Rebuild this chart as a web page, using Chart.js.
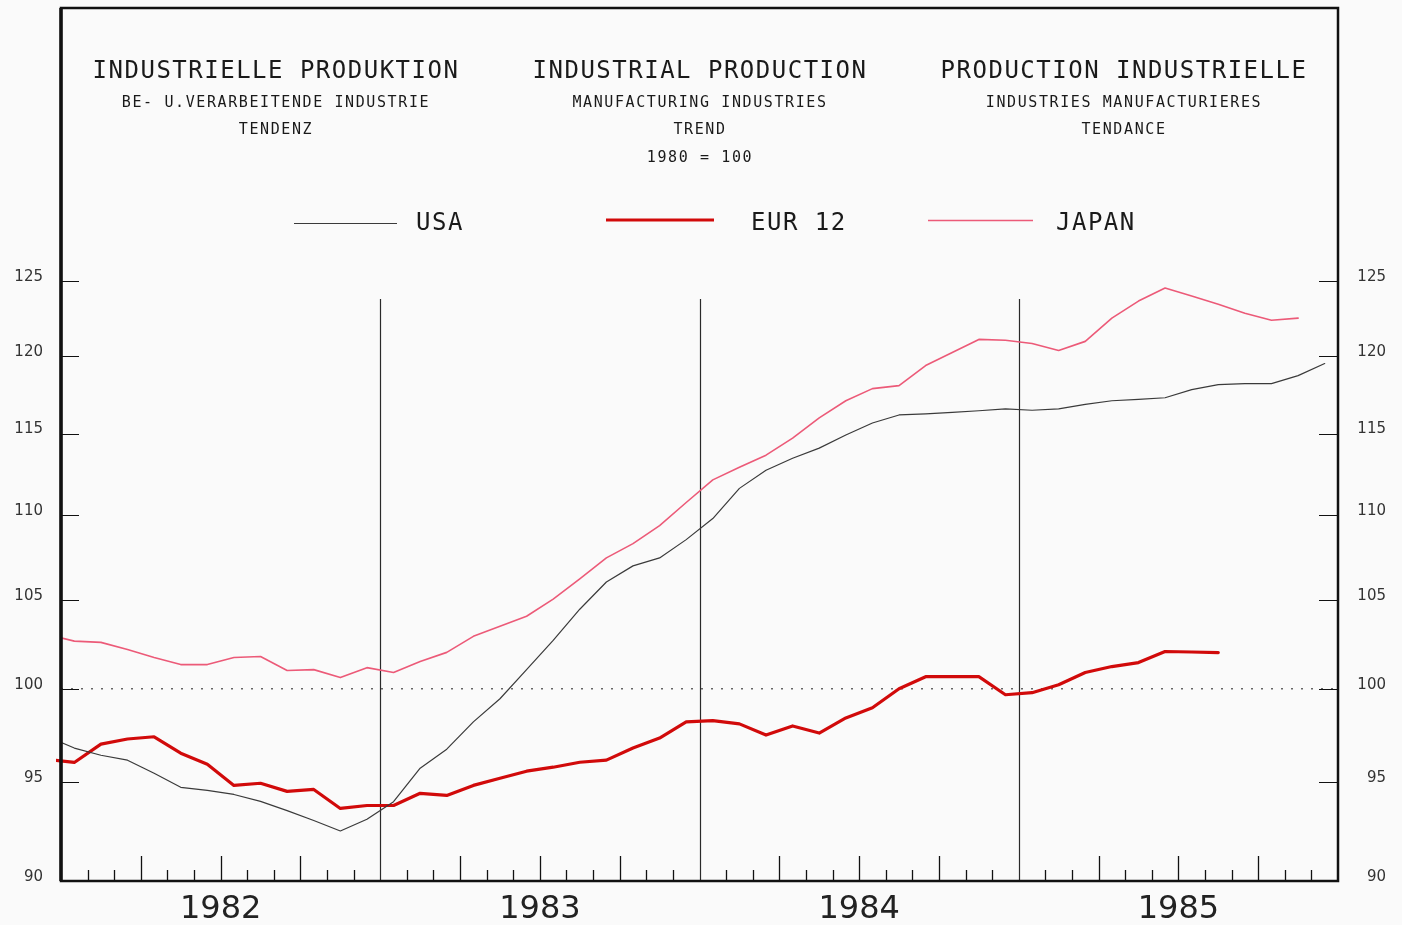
<!DOCTYPE html>
<html>
<head>
<meta charset="utf-8">
<title>Industrielle Produktion</title>
<script src="https://cdn.jsdelivr.net/npm/chart.js@4.4.1/dist/chart.umd.min.js"></script>
<style>
    html, body { margin: 0; padding: 0; background: #fafafa; }
    #wrap { width: 1402px; height: 925px; }
</style>
</head>
<body>
<div id="wrap"><canvas id="grafico" width="1402" height="925"></canvas></div>
<script>
// Dados: tendência mensal, 1980 = 100
// primeiro valor de cada série = dezembro 1981, depois jan/1982 em diante
const anos = ['1982', '1983', '1984', '1985'];
const ticksY = [90, 95, 100, 105, 110, 115, 120, 125];

const usa = [
    97.4,
    96.8, 96.42, 96.16, 95.47, 94.74, 94.58, 94.37, 94.01, 93.54, 93.03, 92.5, 93.1,
    94.0, 95.74, 96.74, 98.2, 99.45, 101.05, 102.68, 104.45, 106.02, 106.96, 107.43, 108.51,
    109.77, 111.6, 112.71, 113.46, 114.09, 114.91, 115.67, 116.18, 116.25, 116.35, 116.45, 116.57,
    116.48, 116.57, 116.86, 117.09, 117.18, 117.28, 117.8, 118.13, 118.19, 118.19, 118.71, 119.5
];

const eur12 = [
    96.2,
    96.04, 97.01, 97.28, 97.4, 96.53, 95.95, 94.84, 94.95, 94.53, 94.63, 93.65, 93.8,
    93.8, 94.43, 94.32, 94.84, 95.21, 95.58, 95.79, 96.05, 96.16, 96.8, 97.33, 98.2,
    98.27, 98.09, 97.49, 97.98, 97.6, 98.41, 98.96, 100.0, 100.66, 100.66, 100.66, 99.67,
    99.78, 100.22, 100.89, 101.22, 101.44, 102.06, 102.03, 102.0
];

const japan = [
    103.0,
    102.64, 102.57, 102.17, 101.72, 101.33, 101.33, 101.72, 101.78, 101.0, 101.05, 100.61, 101.16,
    100.89, 101.5, 102.01, 102.91, 103.48, 104.05, 105.03, 106.2, 107.43, 108.27, 109.35, 110.74,
    112.12, 112.9, 113.65, 114.72, 116.0, 117.09, 117.87, 118.06, 119.37, 120.23, 121.09, 121.03,
    120.82, 120.36, 120.96, 122.51, 123.66, 124.55, 124.0, 123.45, 122.84, 122.37, 122.51
];

// Textos do cabeçalho (três línguas)
const titulos = [
    { x: 276, linhas: ['INDUSTRIELLE PRODUKTION', 'BE- U.VERARBEITENDE INDUSTRIE', 'TENDENZ'] },
    { x: 700, linhas: ['INDUSTRIAL PRODUCTION', 'MANUFACTURING INDUSTRIES', 'TREND', '1980 = 100'] },
    { x: 1124, linhas: ['PRODUCTION INDUSTRIELLE', 'INDUSTRIES MANUFACTURIERES', 'TENDANCE'] }
];

// cada ponto fica no meio do mês (eixo x em meses desde jan/1982)
function pontos(valores) {
    return valores.map((v, i) => ({ x: i - 0.5, y: v }));
}

const fonteMono = '"DejaVu Sans Mono", monospace';

const moldura = {
    id: 'moldura',
    beforeDatasetsDraw(chart) {
        const { ctx, chartArea: a, scales: { x, y } } = chart;
        ctx.save();
        // linha pontilhada em 100
        const y100 = y.getPixelForValue(100);
        ctx.strokeStyle = '#666';
        ctx.lineWidth = 1.5;
        ctx.setLineDash([2, 8]);
        ctx.beginPath();
        ctx.moveTo(a.left, y100);
        ctx.lineTo(a.right, y100);
        ctx.stroke();
        ctx.setLineDash([]);
        // linhas verticais entre os anos
        ctx.strokeStyle = '#2a2a2a';
        ctx.lineWidth = 1.2;
        [12, 24, 36].forEach(m => {
            const px = Math.round(x.getPixelForValue(m)) + 0.5;
            ctx.beginPath();
            ctx.moveTo(px, y.getPixelForValue(123.8));
            ctx.lineTo(px, a.bottom);
            ctx.stroke();
        });
        ctx.restore();
    },
    afterDatasetsDraw(chart) {
        const { ctx, chartArea: a, scales: { x, y } } = chart;
        ctx.save();
        ctx.strokeStyle = '#111';
        // marcas dos meses (trimestres mais altas)
        ctx.lineWidth = 1.3;
        for (let m = 1; m < 48; m++) {
            if (m % 12 === 0) continue;
            const px = Math.round(x.getPixelForValue(m)) + 0.5;
            const alt = m % 3 === 0 ? 25 : 11;
            ctx.beginPath();
            ctx.moveTo(px, a.bottom);
            ctx.lineTo(px, a.bottom - alt);
            ctx.stroke();
        }
        // marcas do eixo y, dentro da moldura, dos dois lados
        ctx.lineWidth = 1.2;
        ticksY.forEach(v => {
            if (v === 90) return;
            const py = Math.round(y.getPixelForValue(v)) + 0.5;
            ctx.beginPath();
            ctx.moveTo(a.left, py);
            ctx.lineTo(a.left + 18, py);
            ctx.moveTo(a.right - 19, py);
            ctx.lineTo(a.right, py);
            ctx.stroke();
        });
        // moldura
        ctx.lineWidth = 2.5;
        ctx.strokeRect(a.left, a.top, a.right - a.left, a.bottom - a.top);
        ctx.lineWidth = 3.5;
        ctx.beginPath();
        ctx.moveTo(a.left, a.top);
        ctx.lineTo(a.left, a.bottom);
        ctx.stroke();
        ctx.restore();
    },
    afterDraw(chart) {
        const { ctx } = chart;
        ctx.save();
        ctx.fillStyle = '#1a1a1a';
        ctx.textAlign = 'center';
        ctx.textBaseline = 'alphabetic';
        const bases = [78, 106.5, 134, 161.5];
        titulos.forEach(t => {
            t.linhas.forEach((txt, i) => {
                if (i === 0) {
                    ctx.font = '24px ' + fonteMono;
                    ctx.letterSpacing = '1.5px';
                } else {
                    ctx.font = '15px ' + fonteMono;
                    ctx.letterSpacing = '1.6px';
                }
                ctx.fillText(txt, t.x, bases[i]);
            });
        });
        // legenda desenhada à mão: linha + rótulo
        const legenda = [
            { x1: 294, x2: 397, ly: 223.5, tx: 416 },
            { x1: 606, x2: 714, ly: 220, tx: 751 },
            { x1: 928, x2: 1033, ly: 220.5, tx: 1056 }
        ];
        ctx.textAlign = 'left';
        ctx.font = '24px ' + fonteMono;
        ctx.letterSpacing = '1.5px';
        chart.data.datasets.forEach((ds, i) => {
            const l = legenda[i];
            ctx.strokeStyle = ds.borderColor;
            ctx.lineWidth = ds.borderWidth;
            ctx.beginPath();
            ctx.moveTo(l.x1, l.ly);
            ctx.lineTo(l.x2, l.ly);
            ctx.stroke();
            ctx.fillText(ds.label, l.tx, 230);
        });
        ctx.restore();
    }
};

// Configuração comum aos dois eixos y (escala logarítmica)
function eixoY(posicao, largura) {
    return {
        type: 'logarithmic',
        position: posicao,
        min: 90,
        max: 145.2,
        afterBuildTicks: (scale) => {
            scale.ticks = ticksY.map(v => ({ value: v }));
        },
        afterFit: (scale) => {
            scale.width = largura;
        },
        grid: { display: false, drawTicks: true, tickLength: 18 },
        border: { display: false },
        ticks: {
            padding: 0,
            labelOffset: -4,
            crossAlign: posicao === 'right' ? 'far' : 'near',
            color: '#333',
            font: { family: '"DejaVu Sans", sans-serif', size: 15, lineHeight: 1 },
            callback: (v) => String(v)
        }
    };
}

new Chart(document.getElementById('grafico'), {
    type: 'line',
    data: {
        datasets: [
            {
                label: 'USA',
                data: pontos(usa),
                borderColor: '#3a3a3a',
                borderWidth: 1.2,
                yAxisID: 'y'
            },
            {
                label: 'EUR 12',
                data: pontos(eur12),
                borderColor: '#d10a0a',
                borderWidth: 3.2,
                yAxisID: 'y',
                clip: { left: 5, top: 0, right: 0, bottom: 0 }
            },
            {
                label: 'JAPAN',
                data: pontos(japan),
                borderColor: '#ec5a78',
                borderWidth: 1.6,
                yAxisID: 'y'
            }
        ]
    },
    options: {
        responsive: false,
        animation: false,
        layout: { padding: { top: 8, right: 16, bottom: 0, left: 0 } },
        elements: {
            point: { radius: 0 },
            line: { tension: 0, borderJoinStyle: 'round', borderCapStyle: 'round' }
        },
        plugins: {
            legend: { display: false },
            title: { display: false },
            tooltip: { enabled: false }
        },
        scales: {
            x: {
                type: 'linear',
                min: 0,
                max: 48,
                afterBuildTicks: (scale) => {
                    scale.ticks = anos.map((a, i) => ({ value: 6 + 12 * i }));
                },
                afterFit: (scale) => {
                    scale.height = 44;
                },
                grid: { display: false, drawTicks: false },
                border: { display: false },
                ticks: {
                    padding: 9,
                    maxRotation: 0,
                    autoSkip: false,
                    color: '#222',
                    font: { family: '"DejaVu Sans", sans-serif', size: 32 },
                    callback: (v, i) => anos[i]
                }
            },
            y: eixoY('left', 61),
            y2: eixoY('right', 48)
        }
    },
    plugins: [moldura]
});
</script>
</body>
</html>
